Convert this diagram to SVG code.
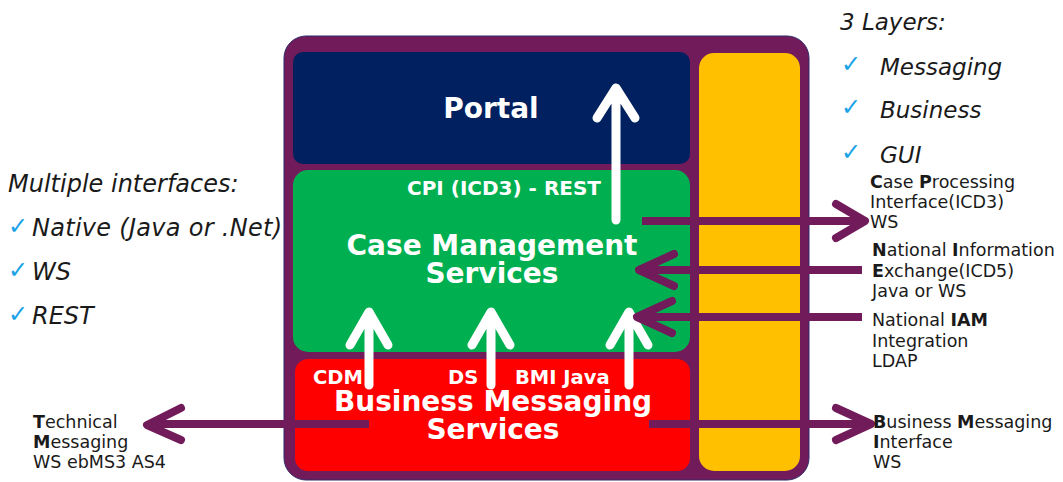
<svg xmlns="http://www.w3.org/2000/svg" width="1063" height="482" viewBox="0 0 1063 482">
<style>
.big{font-family:"DejaVu Sans",Verdana,sans-serif;font-weight:bold;fill:#fff;text-anchor:middle}
.lbl{font-family:"DejaVu Sans",Verdana,sans-serif;font-weight:bold;fill:#fff;font-size:19.5px}
.it{font-family:"DejaVu Sans",Verdana,sans-serif;font-style:italic;fill:#1a1a1a;font-size:23px}
.itl{font-size:24px}
.sm{font-family:"DejaVu Sans",Verdana,sans-serif;fill:#1a1a1a;font-size:17.5px}
.sm tspan.b{font-weight:bold}
.chk{font-family:"DejaVu Sans",sans-serif;fill:#1aa3e6;font-size:24px;font-weight:bold}
.wa{fill:none;stroke:#fff;stroke-width:9;stroke-linecap:round;stroke-linejoin:round}
.pa{fill:none;stroke:#721b5b;stroke-width:8;stroke-linecap:round;stroke-linejoin:round}
.pl{fill:none;stroke:#721b5b;stroke-width:8}
</style>
<rect width="1063" height="482" fill="#fff"/>
<g id="container">
<rect x="284" y="36" width="525" height="444" rx="22" fill="#721b5b" stroke="#2e2a6a" stroke-width="1"/>
</g>
<g id="portal">
<rect x="293" y="52" width="397" height="112" rx="10" fill="#002060"/>
<text class="big" x="491" y="118" font-size="28">Portal</text>
</g>
<g id="case-management">
<rect x="293" y="170" width="397" height="182" rx="15" fill="#00b050"/>
<text class="big" x="504" y="195" font-size="20">CPI (ICD3) - REST</text>
<text class="big" x="492" y="255" font-size="28">Case Management</text>
<text class="big" x="492" y="283" font-size="28">Services</text>
</g>
<g id="business-messaging">
<rect x="295" y="359" width="395" height="112" rx="13" fill="#ff0000"/>
<text class="lbl" x="313" y="384">CDM</text>
<text class="lbl" x="448" y="384">DS</text>
<text class="lbl" x="515" y="384">BMI Java</text>
</g>
<g id="cross-cutting">
<rect x="699" y="53" width="101" height="418" rx="15" fill="#ffc000"/>
</g>
<g id="connectors">
<path class="wa" d="M616 220V90M597 118L616 88L635 118"/>
<path class="wa" d="M369 385V313M350 345L369 312L388 345"/>
<path class="wa" d="M491 385V313M472 345L491 312L510 345"/>
<path class="wa" d="M629 385V313M610 345L629 312L648 345"/>
<path class="pl" d="M642 221H862"/>
<path class="pa" d="M836 204L865 221L836 238"/>
<path class="pl" d="M862 270H642"/>
<path class="pa" d="M674 254L639 270L674 286"/>
<path class="pl" d="M862 317H640"/>
<path class="pa" d="M672 301L637 317L672 333"/>
<path class="pl" d="M369 424H152"/>
<path class="pa" d="M181 408L147 425L181 440"/>
<path class="pl" d="M649 424H868"/>
<path class="pa" d="M836 408L871 424L836 440"/>
</g>
<g id="bms-title">
<text class="big" x="493" y="411" font-size="28">Business Messaging</text>
<text class="big" x="493" y="439" font-size="28">Services</text>
</g>
<g id="layers-note">
<text class="it" x="840" y="30">3 Layers:</text>
<text class="chk" x="841" y="72">✓</text>
<text class="it" x="880" y="75">Messaging</text>
<text class="chk" x="841" y="115">✓</text>
<text class="it" x="880" y="118">Business</text>
<text class="chk" x="841" y="160">✓</text>
<text class="it" x="880" y="163">GUI</text>
</g>
<g id="interfaces-note">
<text class="it itl" x="8" y="192">Multiple interfaces:</text>
<text class="chk" x="8" y="234">✓</text>
<text class="it itl" x="32" y="236" textLength="250">Native (Java or .Net)</text>
<text class="chk" x="8" y="278">✓</text>
<text class="it itl" x="32" y="280">WS</text>
<text class="chk" x="8" y="322">✓</text>
<text class="it itl" x="32" y="324">REST</text>
</g>
<g id="cpi-label">
<text class="sm" x="870" y="188"><tspan class="b">C</tspan>ase <tspan class="b">P</tspan>rocessing</text>
<text class="sm" x="870" y="208">Interface(ICD3)</text>
<text class="sm" x="870" y="228">WS</text>
</g>
<g id="nie-label">
<text class="sm" x="872" y="256"><tspan class="b">N</tspan>ational <tspan class="b">I</tspan>nformation</text>
<text class="sm" x="872" y="277"><tspan class="b">E</tspan>xchange(ICD5)</text>
<text class="sm" x="872" y="297">Java or WS</text>
</g>
<g id="iam-label">
<text class="sm" x="872" y="326">National <tspan class="b">IAM</tspan></text>
<text class="sm" x="872" y="347">Integration</text>
<text class="sm" x="872" y="367">LDAP</text>
</g>
<g id="bmi-label">
<text class="sm" x="873" y="428"><tspan class="b">B</tspan>usiness <tspan class="b">M</tspan>essaging</text>
<text class="sm" x="873" y="448"><tspan class="b">I</tspan>nterface</text>
<text class="sm" x="873" y="468">WS</text>
</g>
<g id="tm-label">
<text class="sm" x="33" y="428"><tspan class="b">T</tspan>echnical</text>
<text class="sm" x="33" y="448"><tspan class="b">M</tspan>essaging</text>
<text class="sm" x="33" y="468">WS ebMS3 AS4</text>
</g>
</svg>
